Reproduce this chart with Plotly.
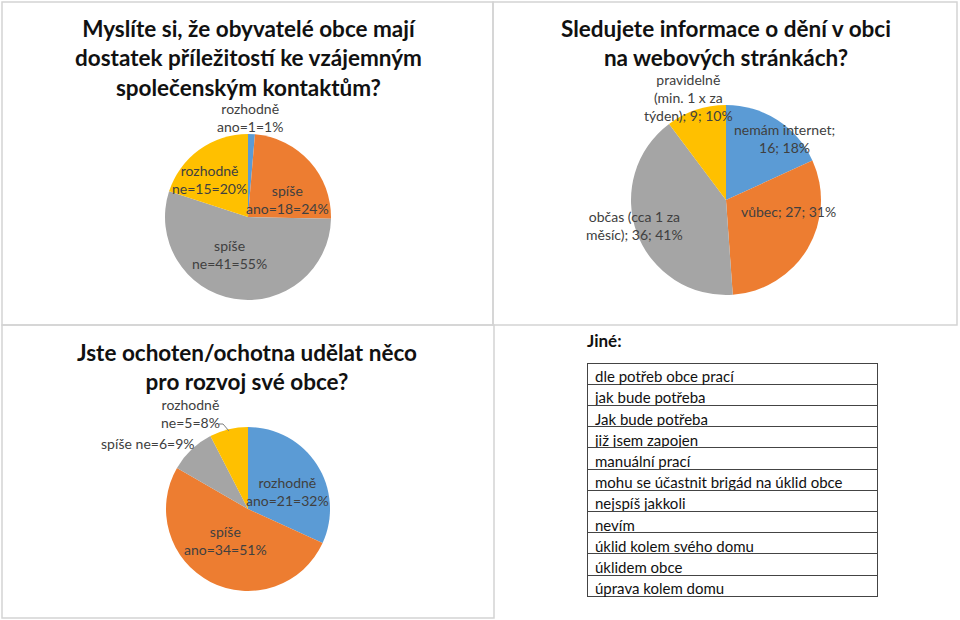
import plotly.graph_objects as go

W, H = 960, 620

# --- data ---
q1_labels = ["rozhodně ano", "spíše ano", "spíše ne", "rozhodně ne"]
q1_values = [1, 18, 41, 15]
q1_text = ["rozhodně<br>ano=1=1%", "spíše<br>ano=18=24%", "spíše<br>ne=41=55%", "rozhodně<br>ne=15=20%"]

q2_labels = ["nemám internet", "vůbec", "občas (cca 1 za měsíc)", "pravidelně (min. 1 x za týden)"]
q2_values = [16, 27, 36, 9]
q2_text = ["nemám internet;<br>16; 18%", "vůbec; 27; 31%", "občas (cca 1 za<br>měsíc); 36; 41%",
           "pravidelně<br>(min. 1 x za<br>týden); 9; 10%"]

q3_labels = ["rozhodně ano", "spíše ano", "spíše ne", "rozhodně ne"]
q3_values = [21, 34, 6, 5]
q3_text = ["rozhodně<br>ano=21=32%", "spíše<br>ano=34=51%", "spíše ne=6=9%", "rozhodně<br>ne=5=8%"]

other_answers = ["dle potřeb obce prací", "jak bude potřeba", "Jak bude potřeba", "již jsem zapojen",
                 "manuální prací", "mohu se účastnit brigád na úklid obce", "nejspíš jakkoli", "nevím",
                 "úklid kolem svého domu", "úklidem obce", "úprava kolem domu"]

colors = ["#5B9BD5", "#ED7D31", "#A5A5A5", "#FFC000"]
FONT = "Lato"


def px(x):
    return x / W


def py(y):
    return 1 - y / H


def pie_domain(cx, cy, r):
    return dict(x=[px(cx - r), px(cx + r)], y=[py(cy + r), py(cy - r)])


fig = go.Figure()

for vals, labs, dom in [(q1_values, q1_labels, pie_domain(248, 217, 83)),
                        (q2_values, q2_labels, pie_domain(726, 200, 95)),
                        (q3_values, q3_labels, pie_domain(248, 509, 82))]:
    fig.add_trace(go.Pie(values=vals, labels=labs, domain=dom, sort=False, direction="clockwise",
                         rotation=0, textinfo="none", hoverinfo="label+value+percent",
                         marker=dict(colors=colors, line=dict(width=0)), showlegend=False))

fig.add_trace(go.Table(
    domain=dict(x=[px(587), px(877)], y=[py(597), py(363)]),
    columnwidth=[1],
    header=dict(values=[other_answers[0]], align="left", height=21.2,
                fill_color="white", line=dict(color="#444", width=1),
                font=dict(family=FONT, size=15, color="#111")),
    cells=dict(values=[other_answers[1:]], align="left", height=21.2,
               fill_color="white", line=dict(color="#444", width=1),
               font=dict(family=FONT, size=15, color="#111")),
))

ann = []


def title(text, cx, cy):
    ann.append(dict(text=text, x=px(cx), y=py(cy), xref="paper", yref="paper", showarrow=False,
                    xanchor="center", yanchor="middle", font=dict(family=FONT, size=22.5, color="#111"),
                    align="center"))


def label(text, cx, cy):
    ann.append(dict(text=text, x=px(cx), y=py(cy), xref="paper", yref="paper", showarrow=False,
                    xanchor="center", yanchor="middle", font=dict(family=FONT, size=14, color="#404040"),
                    align="center"))


title("<b>Myslíte si, že obyvatelé obce mají<br>dostatek příležitostí ke vzájemným<br>společenským kontaktům?</b>", 248, 58)
title("<b>Sledujete informace o dění v obci<br>na webových stránkách?</b>", 726, 43)
title("<b>Jste ochoten/ochotna udělat něco<br>pro rozvoj své obce?</b>", 247, 367)

for t, (x, y) in zip(q1_text, [(250, 117), (287, 200), (229, 254), (209, 179)]):
    label(t, x, y)
for t, (x, y) in zip(q2_text, [(784, 139), (788, 211), (634, 225), (688, 97)]):
    label(t, x, y)
for t, (x, y) in zip(q3_text, [(287, 491), (225, 540), (147, 443), (190, 413)]):
    label(t, x, y)

ann.append(dict(text="<b>Jiné:</b>", x=px(585), y=py(340), xref="paper", yref="paper", showarrow=False,
                xanchor="left", yanchor="middle", font=dict(family=FONT, size=17, color="#111")))

shapes = []
for x0, y0, x1, y1 in [(2, 2, 493, 325), (493, 2, 957, 325), (2, 325, 494, 618)]:
    shapes.append(dict(type="rect", xref="paper", yref="paper", x0=px(x0), y0=py(y1), x1=px(x1), y1=py(y0),
                       line=dict(color="#d4d4d4", width=1.5)))
# leader line for the small slice label
shapes.append(dict(type="path", xref="paper", yref="paper",
                   path=f"M {px(219)} {py(424)} L {px(223)} {py(424)} L {px(229)} {py(431)}",
                   line=dict(color="#7f7f7f", width=1)))

fig.update_layout(width=W, height=H, margin=dict(l=0, r=0, t=0, b=0), paper_bgcolor="white",
                  annotations=ann, shapes=shapes, font=dict(family=FONT))

fig.write_html("out.html", config={"displayModeBar": False},
               post_script="document.body.style.margin='0';")
